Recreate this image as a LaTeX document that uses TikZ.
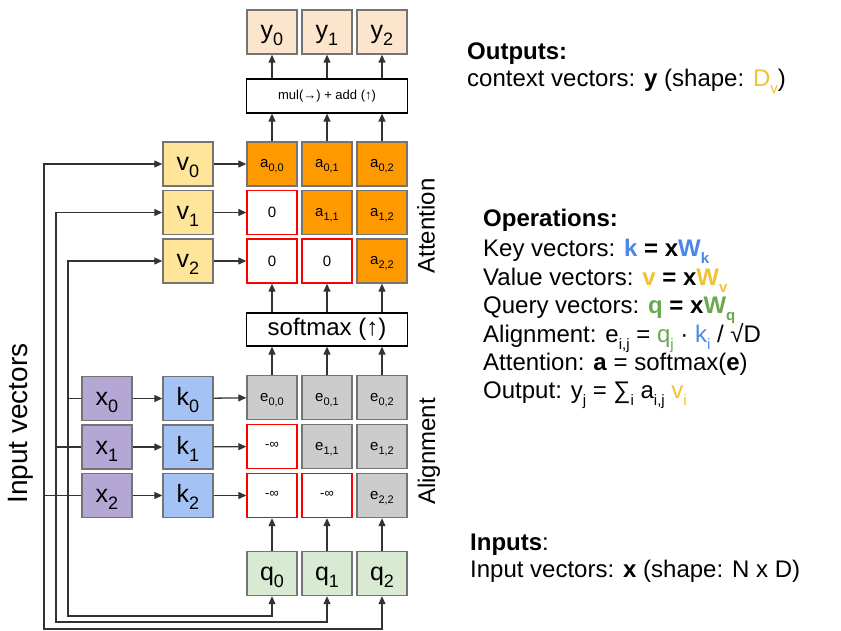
\documentclass[tikz,border=0pt]{standalone}
\usepackage{fontspec}
\setmainfont{Liberation Sans}
\usetikzlibrary{arrows.meta}
\definecolor{ypeach}{HTML}{FCE5CD}
\definecolor{aorange}{HTML}{FF9900}
\definecolor{vyel}{HTML}{FFE599}
\definecolor{xpur}{HTML}{B4A7D6}
\definecolor{kblu}{HTML}{A4C2F4}
\definecolor{qgre}{HTML}{D9EAD3}
\definecolor{egray}{HTML}{CCCCCC}
\definecolor{bord}{HTML}{747474}
\definecolor{linec}{HTML}{333333}
\definecolor{mred}{HTML}{FF0000}
\definecolor{kb}{HTML}{4A86E8}
\definecolor{vy}{HTML}{F1C232}
\definecolor{qg}{HTML}{6AA84F}
\newcommand\Lab[2]{{\fontsize{25}{25}\selectfont\rule{0pt}{21pt}#1\raisebox{-7pt}{\fontsize{18}{18}\selectfont #2}}}
\newcommand\lab[2]{{\fontsize{15}{15}\selectfont\rule{0pt}{13pt}#1\raisebox{-4pt}{\fontsize{11}{11}\selectfont #2}}}
\newcommand\sbs[1]{\raisebox{-7pt}{\fontsize{15}{15}\selectfont #1}}
\newcommand\ninf{\raisebox{2pt}{\fontsize{13}{13}\selectfont -∞}}
\newcommand\zer{{\fontsize{15}{15}\selectfont 0}}
\begin{document}
\begin{tikzpicture}[x=1pt,y=1pt,
  box/.style={draw=bord, line width=1.4pt, minimum width=50pt, minimum height=44pt, inner sep=0pt, text=black},
  ybox/.style={box, fill=ypeach},
  abox/.style={box, fill=aorange},
  vbox/.style={box, fill=vyel},
  xbox/.style={box, fill=xpur},
  kbox/.style={box, fill=kblu},
  qbox/.style={box, fill=qgre},
  ebox/.style={box, fill=egray},
  mbox/.style={box, draw=mred, fill=white},
  wide/.style={draw=black, line width=1.2pt, fill=white, minimum width=161pt, inner sep=0pt},
  arr/.style={draw=linec, line width=1.3pt, -{Triangle[length=8pt,width=7pt]}},
  barr/.style={draw=linec, line width=1.3pt, {Triangle[length=8pt,width=7pt]}-{Triangle[length=8pt,width=7pt]}},
  ln/.style={draw=linec, line width=1.3pt},
  txt/.style={anchor=base west, inner sep=0pt, font=\fontsize{24}{28}\selectfont},
  side/.style={rotate=90, inner sep=0pt, font=\fontsize{24}{24}\selectfont}]
\useasboundingbox (0,0) rectangle (841,-631);

% outputs
\node[ybox] (y0) at (272,-32) {\Lab{y}{0}};
\node[ybox] (y1) at (327,-32) {\Lab{y}{1}};
\node[ybox] (y2) at (382,-32) {\Lab{y}{2}};
\node[wide, minimum height=34pt] (mul) at (327,-96) {\fontsize{13}{13}\selectfont mul(→) + add (↑)};

% attention grid
\node[abox] (a00) at (272,-164) {\lab{a}{0,0}};
\node[abox] (a01) at (327,-164) {\lab{a}{0,1}};
\node[abox] (a02) at (382,-164) {\lab{a}{0,2}};
\node[mbox] (a10) at (272,-212.5) {\zer};
\node[abox] (a11) at (327,-212.5) {\lab{a}{1,1}};
\node[abox] (a12) at (382,-212.5) {\lab{a}{1,2}};
\node[mbox] (a20) at (272,-261) {\zer};
\node[mbox] (a21) at (327,-261) {\zer};
\node[abox] (a22) at (382,-261) {\lab{a}{2,2}};

% values
\node[vbox] (v0) at (188,-164) {\Lab{v}{0}};
\node[vbox] (v1) at (188,-212.5) {\Lab{v}{1}};
\node[vbox] (v2) at (188,-261) {\Lab{v}{2}};

\node[wide, minimum height=33pt] (sm) at (327,-329.5) {\fontsize{24}{24}\selectfont softmax (↑)};

% alignment grid
\node[ebox] (e00) at (272,-397.5) {\lab{e}{0,0}};
\node[ebox] (e01) at (327,-397.5) {\lab{e}{0,1}};
\node[ebox] (e02) at (382,-397.5) {\lab{e}{0,2}};
\node[mbox] (e10) at (272,-446.5) {\ninf};
\node[ebox] (e11) at (327,-446.5) {\lab{e}{1,1}};
\node[ebox] (e12) at (382,-446.5) {\lab{e}{1,2}};
\node[mbox] (e20) at (272,-495.5) {\ninf};
\node[mbox] (e21) at (327,-495.5) {\ninf};
\node[ebox] (e22) at (382,-495.5) {\lab{e}{2,2}};

% inputs and keys
\node[xbox] (x0) at (107,-398.5) {\Lab{x}{0}};
\node[xbox] (x1) at (107,-447) {\Lab{x}{1}};
\node[xbox] (x2) at (107,-495.5) {\Lab{x}{2}};
\node[kbox] (k0) at (188,-398.5) {\Lab{k}{0}};
\node[kbox] (k1) at (188,-447) {\Lab{k}{1}};
\node[kbox] (k2) at (188,-495.5) {\Lab{k}{2}};

% queries
\node[qbox] (q0) at (272,-573.5) {\Lab{q}{0}};
\node[qbox] (q1) at (327,-573.5) {\Lab{q}{1}};
\node[qbox] (q2) at (382,-573.5) {\Lab{q}{2}};

% side labels
\node[side] (latt) at (426,-226) {Attention};
\node[side] (lali) at (429,-451.5) {Alignment};
\node[side, font=\fontsize{28}{28}\selectfont] (linp) at (21,-423.5) {Input vectors};

% input distribution lines
\coordinate (cA) at (44,-629);
\coordinate (cB) at (56,-622);
\coordinate (cC) at (68,-616);
\draw[barr] (v0.west) -| (cA) -| (q2.south);
\draw[barr] (v1.west) -| (cB) -| (q1.south);
\draw[barr] (v2.west) -| (cC) -| (q0.south);
\draw[ln] (x2.west) -- (x2.west -| cA);
\draw[ln] (x1.west) -- (x1.west -| cB);
\draw[ln] (x0.west) -- (x0.west -| cC);

% arrows
\foreach \i in {0,1,2} {
  \draw[arr] (x\i) -- (k\i);
  \draw[arr] (k\i) -- (e\i0);
  \draw[arr] (v\i) -- (a\i0);
  \draw[arr] (q\i) -- (e2\i);
  \draw[arr] (e0\i.north) -- (e0\i.north |- sm.south);
  \draw[arr] (e0\i.north |- sm.north) -- (a2\i.south);
  \draw[arr] (a0\i.north) -- (a0\i.north |- mul.south);
  \draw[arr] (a0\i.north |- mul.north) -- (y\i.south);
}

% right-hand text
\node[txt] (o1) at (467,-60) {\textbf{Outputs:}};
\node[txt] (o2) at (467,-87) {context vectors: \textbf{y} (shape: \textcolor{vy}{D\sbs{v}})};
\node[txt] (p0) at (483,-227) {\textbf{Operations:}};
\node[txt] (p1) at (483,-257) {Key vectors: \textbf{\textcolor{kb}{k} = x\textcolor{kb}{W\sbs{k}}}};
\node[txt] (p2) at (483,-285) {Value vectors: \textbf{\textcolor{vy}{v} = x\textcolor{vy}{W\sbs{v}}}};
\node[txt] (p3) at (483,-313) {Query vectors: \textbf{\textcolor{qg}{q} = x\textcolor{qg}{W\sbs{q}}}};
\node[txt] (p4) at (483,-342) {Alignment: e\sbs{i,j} = \textcolor{qg}{q\sbs{j}} · \textcolor{kb}{k\sbs{i}} / √D};
\node[txt] (p5) at (483,-370) {Attention: \textbf{a} = softmax(\textbf{e})};
\node[txt] (p6) at (483,-398) {Output: y\sbs{j} = ∑\sbs{i} a\sbs{i,j} \textcolor{vy}{v\sbs{i}}};
\node[txt] (i1) at (470,-550) {\textbf{Inputs}:};
\node[txt] (i2) at (470,-577) {Input vectors: \textbf{x} (shape: N x D)};
\end{tikzpicture}
\end{document}
